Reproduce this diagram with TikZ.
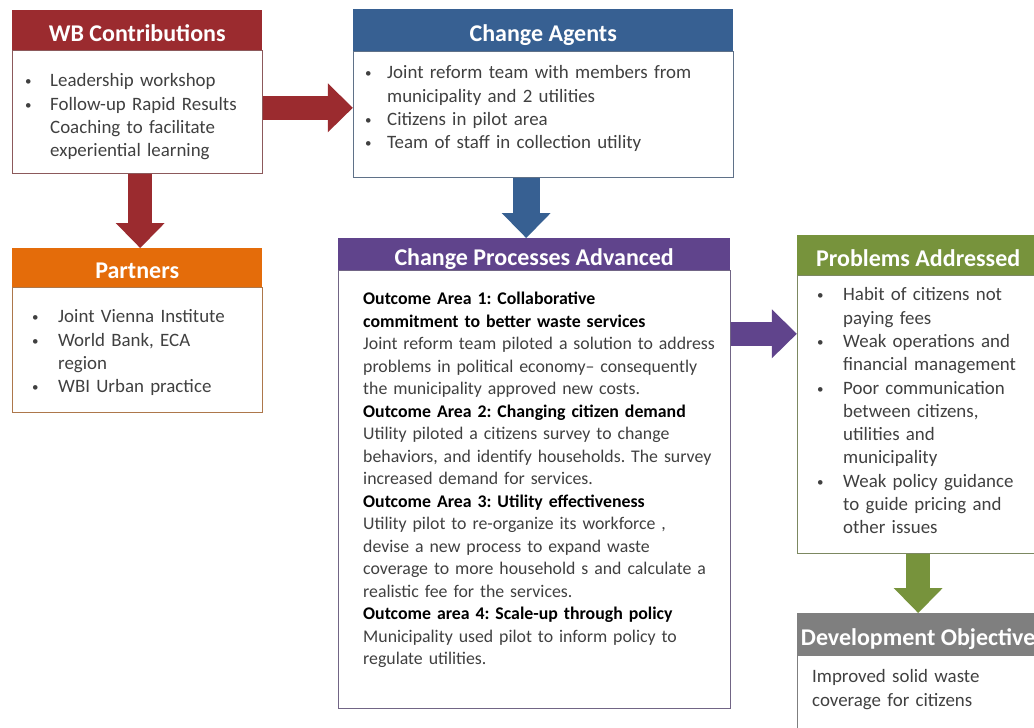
\documentclass[tikz,border=0pt]{standalone}
\usepackage{fontspec}
\setmainfont{Carlito}
\usetikzlibrary{positioning, arrows.meta}
\frenchspacing

\definecolor{wbred}{RGB}{155,43,47}
\definecolor{agblue}{RGB}{55,96,146}
\definecolor{cppurple}{RGB}{96,68,140}
\definecolor{ptorange}{RGB}{228,108,10}
\definecolor{pbgreen}{RGB}{119,147,60}
\definecolor{dogray}{RGB}{127,127,127}
\definecolor{bodytext}{RGB}{64,64,64}

\newlength{\bw}
\newcommand{\headfont}{\fontsize{24}{28}\selectfont\bfseries}
\newcommand{\bodyfont}{\fontsize{18.9}{23.3}\selectfont}
\newcommand{\cpfont}{\fontsize{17.8}{22.5}\selectfont}
\newcommand{\pad}[2]{\leftskip=#1\relax\setlength{\bw}{#2}}
\newcommand{\bitem}[1]{\noindent\hangindent=\bw\hangafter=1\makebox[\bw][l]{\hspace{2pt}\raisebox{1pt}{\fontsize{13}{13}\selectfont\textbullet}}#1\par}
\newcommand{\outc}[1]{\textcolor{black}{\bfseries #1}}

\begin{document}
\begin{tikzpicture}[x=1pt,y=-1pt,
    head/.style={fill=#1, text=white, font=\headfont, inner sep=0pt,
      text height=22pt, text depth=0pt, anchor=north west},
    body/.style={draw=#1!45!gray, line width=0.8pt, inner sep=0pt, align=left,
      font=\bodyfont, text=bodytext},
    blockarrow/.style={draw=#1, line width=24pt,
      -{Triangle[length=25pt, width=49pt, line width=0pt]}}]
  \clip (0,0) rectangle (1034,728);
  \fill[white] (0,0) rectangle (1034,728);

  % WB contributions
  \node[head=wbred, minimum width=250pt, minimum height=40pt] (wbhead) at (12,10) {WB Contributions};
  \node[body=wbred, text width=250pt, text height=36pt, text depth=87pt, below=0pt of wbhead] (wbbody)
    {\pad{11pt}{27pt}\bitem{Leadership workshop}
     \bitem{Follow-up Rapid Results\newline Coaching to facilitate\newline experiential learning}};

  % change agents
  \node[head=agblue, minimum width=380pt, minimum height=42pt] (aghead) at (353,9) {Change Agents};
  \node[body=agblue, text width=380pt, text height=27pt, text depth=99pt, below=0pt of aghead] (agbody)
    {\pad{10pt}{24pt}\bitem{Joint reform team with members from\newline municipality and 2 utilities}
     \bitem{Citizens in pilot area}
     \bitem{Team of staff in collection utility}};

  % partners
  \node[head=ptorange, minimum width=250pt, minimum height=39pt] (pthead) at (12,248) {Partners};
  \node[body=ptorange, text width=250pt, text height=35pt, text depth=90pt, below=0pt of pthead] (ptbody)
    {\pad{18pt}{28pt}\bitem{Joint Vienna Institute}
     \bitem{World Bank, ECA\newline region}
     \bitem{WBI Urban practice}};

  % change processes
  \node[head=cppurple, minimum width=392pt, minimum height=32pt] (cphead) at (338,238) {Change Processes Advanced};
  \node[body=cppurple, font=\cpfont, text width=392pt, text height=34pt, text depth=404pt, below=0pt of cphead] (cpbody)
    {\pad{25pt}{0pt}\outc{Outcome Area 1: Collaborative}\newline
     \outc{commitment to better waste services}\newline
     Joint reform team piloted a solution to address\newline
     problems in political economy-- consequently\newline
     the municipality approved new costs.\newline
     \outc{Outcome Area 2: Changing citizen demand}\newline
     Utility piloted a citizens survey to change\newline
     behaviors, and identify households. The survey\newline
     increased demand for services.\newline
     \outc{Outcome Area 3: Utility effectiveness}\newline
     Utility pilot to re-organize its workforce ,\newline
     devise a new process to expand waste\newline
     coverage to more household s and calculate a\newline
     realistic fee for the services.\newline
     \outc{Outcome area 4: Scale-up through policy}\newline
     Municipality used pilot to inform policy to\newline
     regulate utilities.\par};

  % problems addressed
  \node[head=pbgreen, minimum width=242pt, minimum height=40pt] (pbhead) at (797,235) {Problems Addressed};
  \node[body=pbgreen, text width=242pt, text height=25pt, text depth=253pt, below=0pt of pbhead] (pbbody)
    {\pad{18pt}{28pt}\bitem{Habit of citizens not\newline paying fees}
     \bitem{Weak operations and\newline financial management}
     \bitem{Poor communication\newline between citizens,\newline utilities and\newline municipality}
     \bitem{Weak policy guidance\newline to guide pricing and\newline other issues}};

  % development objective
  \node[head=dogray, minimum width=242pt, minimum height=42pt] (dohead) at (797,613) {Development Objective};
  \node[body=dogray, text width=242pt, text height=27pt, text depth=100pt, below=0pt of dohead] (dobody)
    {\pad{15pt}{0pt}Improved solid waste\newline coverage for citizens\par};

  % arrows
  \draw[blockarrow=wbred] ([yshift=4.5pt]wbbody.east) -- ([yshift=4.5pt]wbbody.east -| agbody.west);
  \draw[blockarrow=wbred] ([xshift=3pt]wbbody.south) -- ([xshift=3pt]wbbody.south |- pthead.north);
  \draw[blockarrow=agblue, line width=27pt] ([xshift=-17pt]agbody.south) -- ([xshift=-17pt]agbody.south |- cphead.north);
  \draw[blockarrow=cppurple] ([yshift=156pt]cpbody.east) -- ([yshift=156pt]cpbody.east -| pbbody.west);
  \draw[blockarrow=pbgreen] (pbbody.south) -- (dohead.north);
\end{tikzpicture}
\end{document}
